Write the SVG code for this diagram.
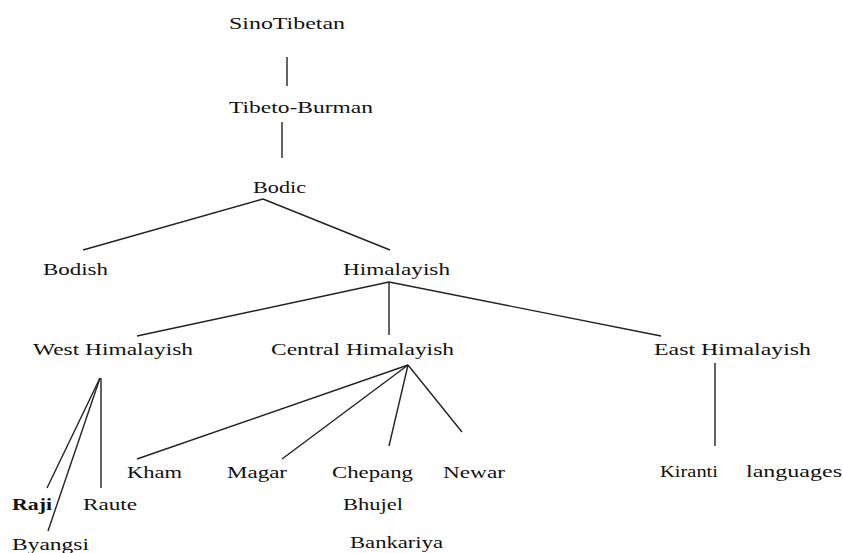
<svg xmlns="http://www.w3.org/2000/svg" width="843" height="553" viewBox="0 0 843 553">
<style>
text{font-family:"Liberation Serif","DejaVu Serif","Times New Roman",serif;font-size:17px;fill:#111;}
.b{font-weight:bold;}
#edges line{stroke:#222;stroke-width:1.4;}
</style>
<rect width="843" height="553" fill="#fff"/>
<g id="edges">
<line x1="287" y1="57" x2="287" y2="86"/>
<line x1="282" y1="122" x2="282" y2="158"/>
<line x1="263" y1="199" x2="83" y2="250"/>
<line x1="263" y1="199" x2="390" y2="250"/>
<line x1="389" y1="282" x2="137" y2="336"/>
<line x1="389" y1="282" x2="389" y2="335"/>
<line x1="389" y1="282" x2="661" y2="336"/>
<line x1="100" y1="378" x2="47" y2="488"/>
<line x1="100" y1="378" x2="48" y2="531"/>
<line x1="101" y1="378" x2="101" y2="488"/>
<line x1="408" y1="365" x2="137" y2="459"/>
<line x1="408" y1="365" x2="282" y2="459"/>
<line x1="408" y1="365" x2="389" y2="446"/>
<line x1="408" y1="365" x2="462" y2="432"/>
<line x1="715" y1="363" x2="715" y2="446"/>
</g>
<g id="sinotibetan"><text font-family="Liberation Serif, serif" x="229" y="29" textLength="116" lengthAdjust="spacingAndGlyphs">SinoTibetan</text></g>
<g id="tibetoburman"><text x="229" y="113" textLength="144" lengthAdjust="spacingAndGlyphs">Tibeto-Burman</text></g>
<g id="bodic"><text x="253" y="193" textLength="53" lengthAdjust="spacingAndGlyphs">Bodic</text></g>
<g id="bodish"><text x="43" y="275" textLength="65" lengthAdjust="spacingAndGlyphs">Bodish</text></g>
<g id="himalayish"><text x="343" y="275" textLength="107" lengthAdjust="spacingAndGlyphs">Himalayish</text></g>
<g id="west"><text x="33" y="355" textLength="160" lengthAdjust="spacingAndGlyphs">West Himalayish</text></g>
<g id="central"><text x="271" y="355" textLength="183" lengthAdjust="spacingAndGlyphs">Central Himalayish</text></g>
<g id="east"><text x="654" y="355" textLength="157" lengthAdjust="spacingAndGlyphs">East Himalayish</text></g>
<g id="kham"><text x="127" y="478" textLength="55" lengthAdjust="spacingAndGlyphs">Kham</text></g>
<g id="magar"><text x="227" y="478" textLength="60" lengthAdjust="spacingAndGlyphs">Magar</text></g>
<g id="chepang"><text x="332" y="478" textLength="81" lengthAdjust="spacingAndGlyphs">Chepang</text></g>
<g id="newar"><text x="443" y="478" textLength="62" lengthAdjust="spacingAndGlyphs">Newar</text></g>
<g id="kiranti"><text x="660" y="477" textLength="58" lengthAdjust="spacingAndGlyphs">Kiranti</text><text x="746" y="477" textLength="96" lengthAdjust="spacingAndGlyphs">languages</text></g>
<g id="raji"><text class="b" x="12" y="510" textLength="40" lengthAdjust="spacingAndGlyphs">Raji</text></g>
<g id="raute"><text x="83" y="510" textLength="54" lengthAdjust="spacingAndGlyphs">Raute</text></g>
<g id="bhujel"><text x="343" y="510" textLength="60" lengthAdjust="spacingAndGlyphs">Bhujel</text></g>
<g id="byangsi"><text x="12" y="550" textLength="77" lengthAdjust="spacingAndGlyphs">Byangsi</text></g>
<g id="bankariya"><text x="350" y="548" textLength="93" lengthAdjust="spacingAndGlyphs">Bankariya</text></g>
</svg>
